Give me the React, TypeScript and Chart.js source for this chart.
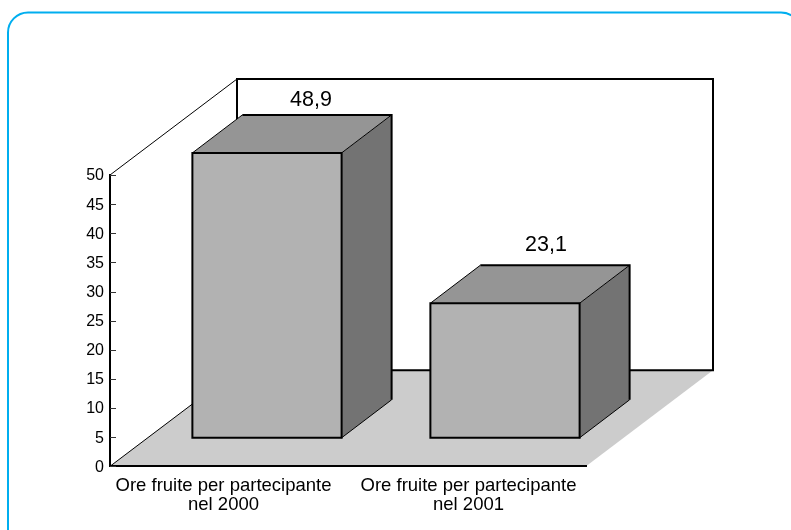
import React, { useEffect, useRef } from "react";
import { Chart, registerables } from "chart.js";

Chart.register(...registerables);

const categories = [
  ["Ore fruite per partecipante", "nel 2000"],
  ["Ore fruite per partecipante", "nel 2001"],
];
const hours = [48.9, 23.1];
const valueLabels = ["48,9", "23,1"];
const yTicks = [0, 5, 10, 15, 20, 25, 30, 35, 40, 45, 50];

const FONT = "'Liberation Sans', Arial, sans-serif";
const WALL = { dx: 127, dy: -96 };
const BAR_SHIFT = { dx: 38, dy: -28.5 };
const BAR_DEPTH = { dx: 50, dy: -38 };
const LABEL_NUDGE = [
  { x: 44, y: -14.5 },
  { x: 41, y: -20 },
];
const X_LABEL_POS = [113.5, 358.5];

function line(ctx: CanvasRenderingContext2D, pts: number[][], width: number) {
  ctx.beginPath();
  pts.forEach((p, i) => (i ? ctx.lineTo(p[0], p[1]) : ctx.moveTo(p[0], p[1])));
  ctx.lineWidth = width;
  ctx.strokeStyle = "#000";
  ctx.stroke();
}
function poly(ctx: CanvasRenderingContext2D, pts: number[][], fill: string) {
  ctx.beginPath();
  pts.forEach((p, i) => (i ? ctx.lineTo(p[0], p[1]) : ctx.moveTo(p[0], p[1])));
  ctx.closePath();
  ctx.fillStyle = fill;
  ctx.fill();
}

const scenePlugin = {
  id: "scene",
  beforeDraw(chart: any) {
    const { ctx, chartArea: a } = chart;
    ctx.save();
    ctx.fillStyle = "#fff";
    ctx.fillRect(0, 0, chart.width, chart.height);
    ctx.beginPath();
    ctx.roundRect(8, 12.5, 793, 560, 20);
    ctx.strokeStyle = "#00aeef";
    ctx.lineWidth = 2;
    ctx.stroke();

    const { dx, dy } = WALL;
    poly(ctx, [[a.left, a.bottom], [a.right, a.bottom], [a.right + dx, a.bottom + dy], [a.left + dx, a.bottom + dy]], "#cccccc");
    line(ctx, [[a.left, a.bottom], [a.left + dx, a.bottom + dy]], 1);
    line(ctx, [[a.left, a.top], [a.left + dx, a.top + dy]], 1);
    line(ctx, [[a.left + dx, a.bottom + dy], [a.left + dx, a.top + dy], [a.right + dx, a.top + dy], [a.right + dx, a.bottom + dy], [a.left + dx, a.bottom + dy]], 2);
    ctx.restore();
  },
  beforeDatasetsDraw(chart: any) {
    const { ctx } = chart;
    const bars = chart.getDatasetMeta(0).data;
    ctx.save();
    ctx.translate(BAR_SHIFT.dx, BAR_SHIFT.dy);
    bars.forEach((b: any) => {
      const p = b.getProps(["x", "y", "base", "width"], true);
      const l = p.x - p.width / 2;
      const r = p.x + p.width / 2;
      const t = p.y;
      const bt = p.base;
      const ddx = BAR_DEPTH.dx;
      const ddy = BAR_DEPTH.dy;
      poly(ctx, [[l, t], [r, t], [r + ddx, t + ddy], [l + ddx, t + ddy]], "#959595");
      poly(ctx, [[r, t], [r + ddx, t + ddy], [r + ddx, bt + ddy], [r, bt]], "#737373");
      line(ctx, [[l, t], [l + ddx, t + ddy]], 1);
      line(ctx, [[r, t], [r + ddx, t + ddy]], 1);
      line(ctx, [[r, bt], [r + ddx, bt + ddy]], 1);
      line(ctx, [[l + ddx, t + ddy], [r + ddx, t + ddy], [r + ddx, bt + ddy]], 2);
    });
    ctx.restore();
  },
  beforeDatasetDraw(chart: any) {
    chart.ctx.save();
    chart.ctx.translate(BAR_SHIFT.dx, BAR_SHIFT.dy);
  },
  afterDatasetDraw(chart: any) {
    const { ctx } = chart;
    chart.getDatasetMeta(0).data.forEach((b: any) => {
      const p = b.getProps(["x", "y", "base", "width"], true);
      const l = p.x - p.width / 2;
      const r = p.x + p.width / 2;
      line(ctx, [[l, p.y], [r, p.y], [r, p.base], [l, p.base], [l, p.y], [r, p.y]], 2);
    });
    ctx.restore();
  },
  afterDraw(chart: any) {
    const { ctx, scales, chartArea: a } = chart;
    const bars = chart.getDatasetMeta(0).data;
    ctx.save();
    // inward tick marks on the value axis
    scales.y.ticks.forEach((t: any) => {
      const y = Math.round(scales.y.getPixelForValue(t.value)) + 0.5;
      ctx.beginPath();
      ctx.moveTo(a.left, y);
      ctx.lineTo(a.left + 6, y);
      ctx.lineWidth = 1;
      ctx.strokeStyle = "#333";
      ctx.stroke();
    });
    // value labels above each box
    ctx.font = `21.5px ${FONT}`;
    ctx.fillStyle = "#000";
    ctx.textAlign = "center";
    ctx.textBaseline = "middle";
    bars.forEach((b: any, i: number) => {
      const p = b.getProps(["x", "y"], true);
      ctx.fillText(
        valueLabels[i],
        p.x + BAR_SHIFT.dx + LABEL_NUDGE[i].x,
        p.y + BAR_SHIFT.dy + BAR_DEPTH.dy + LABEL_NUDGE[i].y
      );
    });
    ctx.restore();
  },
};

export default function App() {
  const ref = useRef<HTMLCanvasElement>(null);
  useEffect(() => {
    const chart = new Chart(ref.current as HTMLCanvasElement, {
      type: "bar",
      data: {
        labels: categories.map((c) => c.join(" ")),
        datasets: [
          {
            data: hours,
            backgroundColor: "#b2b2b2",
            borderWidth: 0,
            categoryPercentage: 1,
            barPercentage: 0.627,
            clip: false,
          } as any,
        ],
      },
      options: {
        animation: false,
        responsive: false,
        layout: { padding: { top: 175, right: 205, left: 0, bottom: 0 } },
        plugins: { legend: { display: false }, tooltip: { enabled: false } },
        scales: {
          x: { display: false, offset: true },
          xTicks: {
            type: "linear",
            axis: "x",
            position: "bottom",
            offset: false,
            min: 0,
            max: 476,
            grid: { display: false, drawTicks: false, offset: false },
            border: { display: true, color: "#000", width: 2 },
            afterBuildTicks: (s: any) => {
              s.ticks = X_LABEL_POS.map((value) => ({ value }));
            },
            afterFit: (s: any) => {
              s.height = 63.7;
            },
            ticks: {
              autoSkip: false,
              maxRotation: 0,
              minRotation: 0,
              padding: 10.5,
              color: "#000",
              font: { family: FONT, size: 18.5, lineHeight: 1.03 },
              callback: (_v: any, i: number) => categories[i],
            },
          },
          y: {
            min: 0,
            max: 50,
            grid: { display: false, drawTicks: false },
            border: { display: true, color: "#000", width: 2 },
            afterBuildTicks: (s: any) => {
              s.ticks = yTicks.map((value) => ({ value }));
            },
            afterFit: (s: any) => {
              s.width = 110;
            },
            ticks: {
              padding: 6,
              labelOffset: 1,
              color: "#000",
              font: { family: FONT, size: 16 },
            },
          },
        },
      } as any,
      plugins: [scenePlugin as any],
    });
    return () => chart.destroy();
  }, []);
  return (
    <canvas
      ref={ref}
      width={791}
      height={530}
      style={{ position: "absolute", left: 0, top: 0, display: "block" }}
    />
  );
}
